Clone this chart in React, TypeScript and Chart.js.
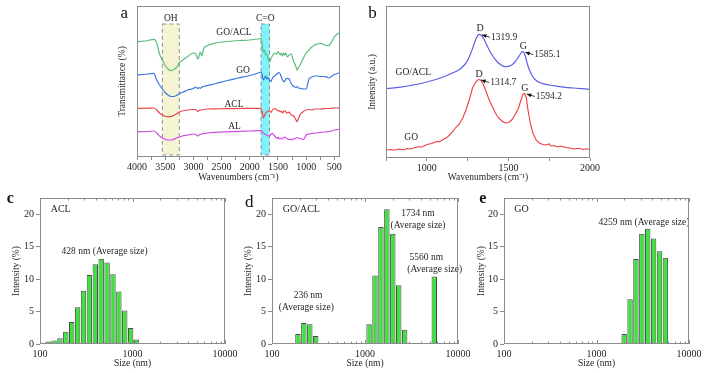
import React, { useEffect, useRef } from 'react';
import { Chart, registerables } from 'chart.js';
Chart.register(...registerables);

const SERIF = '"Liberation Serif", "Times New Roman", Times, serif';
const INK = '#262626';
const FRAME = '#8c8c8c';

// ---------- Panel a: FTIR (offset traces, arbitrary units, larger = lower on plot) ----------
const ftirWn = [4000, 3800, 3700, 3650, 3600, 3550, 3500, 3450, 3400, 3350,
  3300, 3250, 3200, 3100, 3000, 2960, 2920, 2900, 2880, 2850,
  2820, 2750, 2600, 2400, 2200, 2000, 1850, 1800, 1780, 1760,
  1740, 1720, 1700, 1680, 1650, 1620, 1600, 1560, 1520, 1500,
  1480, 1460, 1440, 1420, 1400, 1380, 1360, 1340, 1300, 1280,
  1260, 1240, 1220, 1200, 1180, 1160, 1140, 1100, 1050, 1000,
  950, 900, 850, 800, 750, 700, 650, 600, 550, 500,
  450, 400];
const ftirGoAcl = [41.7, 40.5, 39.3, 43, 54, 60, 65.5, 69, 70.7, 69.5,
  67.5, 63, 60.5, 56.5, 53, 53.5, 59, 56, 52, 56,
  49, 45.5, 43, 41.5, 40.5, 40, 39, 38.5, 45, 52,
  50, 55, 54, 58, 62, 58, 56, 53, 54, 51.5,
  53, 55, 53, 56, 53, 55, 53, 57, 55, 54,
  54, 58, 62, 64, 67, 70, 68, 64, 58, 53,
  50, 47, 45, 44, 43.3, 44, 45.5, 45.5, 42, 37,
  34, 33];
const ftirGo = [75, 74, 73.3, 80, 85, 89, 92.5, 95, 96.5, 96.5,
  95.5, 93.5, 92.5, 90, 88.5, 87, 88.5, 87.5, 88.5, 87,
  86.5, 85.5, 83.5, 80.5, 78, 75.5, 73, 72, 75, 80,
  78, 76, 79, 77.5, 80, 81.5, 78, 76, 74, 73,
  72.7, 74, 77, 80, 81.7, 81, 79, 78.3, 79, 82,
  84, 85.5, 86.5, 87, 87.3, 86.5, 88, 88.3, 89, 89,
  79, 77, 76, 76, 76.5, 76.5, 76.7, 78, 76.5, 74.5,
  73.5, 72.7];
const ftirAcl = [108.3, 108.2, 108, 110, 113, 115, 116.3, 116.7, 116.5, 115.5,
  114, 112, 111, 110, 109.5, 109.5, 111.5, 110.5, 110, 110,
  109.5, 109, 108.8, 108.6, 108.5, 108.4, 108.3, 108.3, 112, 118,
  116, 113, 112, 111, 111, 112.5, 110, 108.5, 110, 111,
  110.5, 112, 111, 113, 111.5, 110.5, 112, 113, 112, 114,
  115, 115.5, 116, 118, 120, 121.7, 119, 114, 111.5, 110,
  109.5, 110, 109, 109, 109, 108.8, 108.5, 108.5, 108.3, 108,
  108, 107.8];
const ftirAl = [131.7, 131.5, 131, 133, 136, 138, 139.3, 140, 140, 139.3,
  138, 137, 136, 135, 134, 134.5, 136, 135, 134.5, 134,
  133.5, 133, 132.3, 131.8, 131.3, 131, 130.7, 130.5, 131.5, 133,
  134, 134.5, 135, 136, 136, 134, 133.3, 136, 138.3, 137,
  139, 138, 139, 138.5, 137.5, 137, 138, 138.5, 139.5, 139,
  140, 139.5, 138.5, 139, 138, 137.5, 138, 138.5, 139.5, 135,
  134, 133.5, 133, 133, 132.5, 132, 132, 131.5, 131, 130,
  129.5, 129];
const ftirNames = ['GO/ACL', 'GO', 'ACL', 'AL'];
const ohBand = [3550, 3250];
const coBand = [1800, 1650];

// ---------- Panel b: Raman ----------
const ramanGoAclWn = [750, 800, 850, 900, 950, 1000, 1050, 1100, 1150, 1200,
  1230, 1250, 1270, 1290, 1305, 1320, 1335, 1350, 1370, 1400,
  1430, 1460, 1480, 1500, 1520, 1540, 1560, 1575, 1585, 1595,
  1605, 1620, 1640, 1660, 1700, 1750, 1800, 1850, 1900, 1950, 2000];
const ramanGoAclI = [88.5, 87.8, 86.8, 85.5, 84, 82, 79.7, 77, 73.5, 69.5,
  65, 60.5, 53, 44, 37.5, 34.3, 35.5, 39, 46, 55,
  61.5, 65.5, 66.7, 66.3, 65, 62, 57.5, 53.5, 51.7, 52.5,
  57, 66, 74, 79, 83, 85, 86.3, 87.3, 88, 88.7, 89.3];
const ramanGoWn = [750, 780, 800, 830, 860, 880, 900, 930, 950, 970,
  1000, 1030, 1060, 1080, 1100, 1120, 1140, 1160, 1180, 1200,
  1220, 1240, 1260, 1280, 1300, 1315, 1330, 1345, 1360, 1380,
  1400, 1420, 1440, 1460, 1480, 1500, 1520, 1540, 1560, 1575,
  1590, 1600, 1610, 1620, 1635, 1650, 1670, 1690, 1710, 1730,
  1750, 1760, 1780, 1800, 1820, 1850, 1880, 1900, 1930, 1960, 1980, 2000];
const ramanGoI = [150, 149.5, 150.3, 149, 149.8, 148.5, 149, 147.5, 146.8, 147,
  144.5, 143.5, 141.5, 141.8, 139.5, 137.8, 135, 131.5, 127, 124,
  118, 110, 100, 88, 82, 79.5, 80, 84, 90, 99,
  106, 113, 118, 121, 123, 122.5, 120, 115, 109, 101,
  94, 93.5, 98, 110, 124, 133, 140, 143, 144.5, 145,
  144, 146, 145.5, 147, 146, 147.5, 148, 149, 148.2, 149.5, 148.7, 149.5];
const goAclPeakWn = [1319.9, 1585.1];
const goAclPeakI = [34.3, 51.7];
const goPeakWn = [1314.7, 1594.2];
const goPeakI = [79.5, 93.5];
const peakNames = ['D', 'G'];

// ---------- Panels c-e: DLS size distributions ----------
const dlsBins = [105.7, 122.4, 141.8, 164.2, 190.1, 220.2, 255.0, 295.3, 342.0, 396.1,
  458.7, 531.2, 615.1, 712.4, 825.0, 955.4, 1106, 1281, 1484, 1718,
  1990, 2305, 2669, 3091, 3580, 4145, 4801, 5560];
const aclIntensity = [0.2, 0.4, 0.55, 0.9, 1.9, 3.4, 5.65, 8.2, 10.65, 12.3,
  13.15, 12.55, 10.75, 8.1, 5.15, 2.45, 0.7, 0, 0, 0,
  0, 0, 0, 0, 0, 0, 0, 0];
const goAclIntensity = [0, 0, 0, 0, 1.55, 3.25, 3.05, 1.25, 0, 0,
  0, 0, 0, 0, 0, 0, 3.05, 10.55, 18.05, 20.75,
  17.0, 9.05, 2.2, 0, 0, 0, 0, 10.4];
const goIntensity = [0, 0, 0, 0, 0, 0, 0, 0, 0, 0,
  0, 0, 0, 0, 0, 0, 0, 0, 0, 0,
  1.55, 6.9, 13.1, 17.0, 17.75, 16.25, 14.3, 13.3];
const sizeTicks = [100, 1000, 10000];
const intensityTicks = [0, 5, 10, 15, 20];

// ---------- helpers ----------
const tickFont = { family: SERIF, size: 10 };
const titleFont = { family: SERIF, size: 9.5 };

function txt(ctx: any, s: string, x: number, y: number, align = 'center', size = 9.5, weight = 'normal') {
  ctx.save();
  ctx.font = `${weight} ${size}px ${SERIF}`;
  ctx.fillStyle = INK;
  ctx.textAlign = align;
  ctx.textBaseline = 'middle';
  ctx.fillText(s, x, y);
  ctx.restore();
}
function letter(ctx: any, s: string, x: number, base: number, size = 16, weight = 'normal') {
  ctx.save();
  ctx.font = `${weight} ${size}px ${SERIF}`;
  ctx.fillStyle = '#111';
  ctx.textAlign = 'left';
  ctx.textBaseline = 'alphabetic';
  ctx.fillText(s, x, base);
  ctx.restore();
}
function arrow(ctx: any, x1: number, y1: number, x2: number, y2: number) {
  ctx.save();
  ctx.strokeStyle = '#111';
  ctx.fillStyle = '#111';
  ctx.lineWidth = 0.8;
  ctx.beginPath();
  ctx.moveTo(x1, y1);
  ctx.lineTo(x2, y2);
  ctx.stroke();
  const a = Math.atan2(y2 - y1, x2 - x1);
  const L = 4.5, W = 2;
  ctx.beginPath();
  ctx.moveTo(x2, y2);
  ctx.lineTo(x2 - L * Math.cos(a) + W * Math.sin(a), y2 - L * Math.sin(a) - W * Math.cos(a));
  ctx.lineTo(x2 - L * Math.cos(a) - W * Math.sin(a), y2 - L * Math.sin(a) + W * Math.cos(a));
  ctx.closePath();
  ctx.fill();
  ctx.restore();
}

const framePlugin = {
  id: 'frame',
  afterDraw(chart: any) {
    const { ctx, chartArea: a } = chart;
    ctx.save();
    ctx.strokeStyle = FRAME;
    ctx.lineWidth = 1;
    ctx.strokeRect(Math.round(a.left) + 0.5, Math.round(a.top) + 0.5, Math.round(a.right - a.left) - 1, Math.round(a.bottom - a.top) - 1);
    ctx.restore();
  },
};

const logTickPlugin = {
  id: 'logTicks',
  afterDraw(chart: any) {
    const { ctx, chartArea: a, scales } = chart;
    const x = scales.x;
    ctx.save();
    ctx.strokeStyle = FRAME;
    ctx.lineWidth = 1;
    ctx.beginPath();
    for (let d = 100; d <= 10000; d *= 10) {
      for (let m = 1; m <= 9; m++) {
        const v = m * d;
        if (v > 10000) break;
        const px = Math.round(x.getPixelForValue(v)) + 0.5;
        const len = m === 1 ? 4 : 2.5;
        ctx.moveTo(px, a.bottom);
        ctx.lineTo(px, a.bottom - len);
        ctx.moveTo(px, a.top);
        ctx.lineTo(px, a.top + len);
      }
    }
    ctx.stroke();
    ctx.restore();
  },
};

const baseOpts = (pad: any) => ({
  responsive: false,
  animation: false,
  events: [],
  layout: { padding: pad },
  plugins: { legend: { display: false }, tooltip: { enabled: false } },
});

const stepTicks = (lo: number, hi: number, step: number) => {
  const out = [];
  for (let v = lo; v <= hi; v += step) out.push({ value: v });
  return out;
};

// ---------- panel a config ----------
const FTIR_COLORS = ['#5bbd7c', '#3c78de', '#e8484b', '#d24fe6'];
function configA() {
  const series = [ftirGoAcl, ftirGo, ftirAcl, ftirAl];
  const annot = {
    id: 'ftirAnnot',
    beforeDatasetsDraw(chart: any) {
      const { ctx, scales: { x, y } } = chart;
      const band = (r: number[], fill: string) => {
        const x1 = x.getPixelForValue(r[0]), x2 = x.getPixelForValue(r[1]);
        const y1 = y.getPixelForValue(24), y2 = y.getPixelForValue(155);
        ctx.save();
        ctx.fillStyle = fill;
        ctx.fillRect(x1, y1, x2 - x1, y2 - y1);
        ctx.setLineDash([4, 3]);
        ctx.strokeStyle = '#8f8f8f';
        ctx.lineWidth = 1;
        ctx.strokeRect(x1, y1, x2 - x1, y2 - y1);
        ctx.restore();
      };
      band(ohBand, '#f6f4d3');
      band(coBand, '#7ff2fa');
    },
    afterDatasetsDraw(chart: any) {
      const { ctx, scales: { x, y } } = chart;
      txt(ctx, 'OH', x.getPixelForValue((ohBand[0] + ohBand[1]) / 2), y.getPixelForValue(18.3));
      txt(ctx, 'C=O', x.getPixelForValue((coBand[0] + coBand[1]) / 2), y.getPixelForValue(18.3));
      const lx = [2280, 2120, 2280, 2270];
      const ly = [32.3, 70, 104, 126];
      ftirNames.forEach((n, i) => txt(ctx, n, x.getPixelForValue(lx[i]), y.getPixelForValue(ly[i])));
      letter(ctx, 'a', 8.5, 18.3, 17);
    },
  };
  return {
    type: 'line',
    data: {
      datasets: series.map((s, k) => ({
        data: ftirWn.map((w, i) => ({ x: w, y: s[i] })),
        borderColor: FTIR_COLORS[k],
        borderWidth: 1.2,
        pointRadius: 0,
        cubicInterpolationMode: 'monotone',
      })),
    },
    options: {
      ...baseOpts({ left: 0, right: 10, top: 6, bottom: 0 }),
      scales: {
        x: {
          type: 'linear', reverse: true, min: 400, max: 4000,
          afterBuildTicks: (s: any) => { s.ticks = stepTicks(500, 4000, 250); },
          afterFit: (s: any) => { s.height = 33; s.paddingLeft = 0; s.paddingRight = 0; },
          ticks: { callback: (v: number) => (v % 500 === 0 ? String(v) : ''), font: tickFont, color: INK, padding: 1, autoSkip: false, maxRotation: 0 },
          grid: { display: true, drawOnChartArea: false, tickLength: 3, color: FRAME },
          border: { display: false },
          title: { display: true, text: 'Wavenumbers (cm⁻¹)', font: titleFont, color: INK, padding: { top: 0, bottom: 7 } },
        },
        y: {
          type: 'linear', reverse: true, min: 6, max: 157,
          afterFit: (s: any) => { s.width = 25; },
          ticks: { display: false }, grid: { display: false }, border: { display: false },
          title: { display: true, text: 'Transmittance (%)', font: titleFont, color: INK, padding: { top: 5, bottom: 0 } },
        },
      },
    },
    plugins: [framePlugin, annot],
  };
}

// ---------- panel b config ----------
function configB() {
  const annot = {
    id: 'ramanAnnot',
    afterDatasetsDraw(chart: any) {
      const { ctx, scales: { x, y } } = chart;
      const mark = (wn: number[], inten: number[]) => {
        wn.forEach((w, i) => {
          const px = x.getPixelForValue(w), py = y.getPixelForValue(inten[i]);
          txt(ctx, peakNames[i], px + 1, py - 5.5, 'center', 10);
          arrow(ctx, px + 11, py + 3, px + 3, py + 0.5);
          txt(ctx, w.toFixed(1), px + 12, py + 3, 'left', 9.5);
        });
      };
      mark(goAclPeakWn, goAclPeakI);
      mark(goPeakWn, goPeakI);
      txt(ctx, 'GO/ACL', x.getPixelForValue(917), y.getPixelForValue(72.7));
      txt(ctx, 'GO', x.getPixelForValue(904), y.getPixelForValue(137));
      letter(ctx, 'b', 6.3, 18.3, 17);
    },
  };
  return {
    type: 'line',
    data: {
      datasets: [
        { data: ramanGoAclWn.map((w, i) => ({ x: w, y: ramanGoAclI[i] })), borderColor: '#5a5fe6', borderWidth: 1.2, pointRadius: 0, cubicInterpolationMode: 'monotone' },
        { data: ramanGoWn.map((w, i) => ({ x: w, y: ramanGoI[i] })), borderColor: '#f03a3c', borderWidth: 1.1, pointRadius: 0 },
      ],
    },
    options: {
      ...baseOpts({ left: 0, right: 10, top: 6, bottom: 0 }),
      scales: {
        x: {
          type: 'linear', min: 750, max: 2000,
          afterBuildTicks: (s: any) => { s.ticks = stepTicks(750, 2000, 250); },
          afterFit: (s: any) => { s.height = 32; s.paddingLeft = 0; s.paddingRight = 0; },
          ticks: { callback: (v: number) => (v % 500 === 0 ? String(v) : ''), font: tickFont, color: INK, padding: 1, autoSkip: false, maxRotation: 0 },
          grid: { display: true, drawOnChartArea: false, tickLength: 3, color: FRAME },
          border: { display: false },
          title: { display: true, text: 'Wavenumbers (cm⁻¹)', font: titleFont, color: INK, padding: { top: 0, bottom: 7 } },
        },
        y: {
          type: 'linear', reverse: true, min: 6, max: 158,
          afterFit: (s: any) => { s.width = 24; },
          ticks: { display: false }, grid: { display: false }, border: { display: false },
          title: { display: true, text: 'Intensity (a.u.)', font: titleFont, color: INK, padding: { top: 5, bottom: 0 } },
        },
      },
    },
    plugins: [framePlugin, annot],
  };
}

// ---------- DLS configs ----------
function dlsConfig(values: number[], yWidth: number, rightPad: number, titlePad: number, annot: any) {
  const pts = dlsBins.map((x, i) => ({ x, y: values[i] })).filter((p) => p.y > 0);
  return {
    type: 'bar',
    data: {
      datasets: [{ data: pts, backgroundColor: '#3ee23e', borderColor: '#4a4a4a', borderWidth: 1, barPercentage: 0.92, categoryPercentage: 1 }],
    },
    options: {
      ...baseOpts({ left: 0, right: rightPad, top: 4, bottom: 0 }),
      scales: {
        x: {
          type: 'logarithmic', min: 100, max: 10000, offset: false,
          afterBuildTicks: (s: any) => { s.ticks = sizeTicks.map((v) => ({ value: v })); },
          afterFit: (s: any) => { s.height = 29; s.paddingLeft = 0; s.paddingRight = 0; },
          ticks: { callback: (v: number) => String(v), font: tickFont, color: INK, padding: 4, autoSkip: false, maxRotation: 0 },
          grid: { display: false, drawTicks: false, offset: false },
          border: { display: false },
          title: { display: true, text: 'Size (nm)', font: titleFont, color: INK, padding: { top: 0, bottom: 4 } },
        },
        y: {
          type: 'linear', min: 0, max: 22.5,
          afterBuildTicks: (s: any) => { s.ticks = intensityTicks.map((v) => ({ value: v })); },
          afterFit: (s: any) => { s.width = yWidth; },
          ticks: { font: tickFont, color: INK, padding: 2 },
          grid: { display: true, drawOnChartArea: false, tickLength: 4, color: FRAME },
          border: { display: false },
          title: { display: true, text: 'Intensity (%)', font: titleFont, color: INK, padding: { top: titlePad, bottom: 0 } },
        },
      },
    },
    plugins: [framePlugin, logTickPlugin, annot],
  };
}

function configC() {
  return dlsConfig(aclIntensity, 34, 26, 4.3, {
    id: 'annC',
    afterDatasetsDraw(chart: any) {
      const { ctx, chartArea: a, scales: { x, y } } = chart;
      txt(ctx, 'ACL', a.left + 10.7, a.top + 11, 'left', 10);
      txt(ctx, '428 nm (Average size)', x.getPixelForValue(500), y.getPixelForValue(14.2));
      letter(ctx, 'c', 0.7, 13, 16, 'bold');
    },
  });
}
function configD() {
  return dlsConfig(goAclIntensity, 31, 23, 2.2, {
    id: 'annD',
    afterDatasetsDraw(chart: any) {
      const { ctx, chartArea: a, scales: { x, y } } = chart;
      txt(ctx, 'GO/ACL', a.left + 10.7, a.top + 11, 'left', 10);
      txt(ctx, '1734 nm', x.getPixelForValue(3715), y.getPixelForValue(20.05));
      txt(ctx, '(Average size)', x.getPixelForValue(3715), y.getPixelForValue(18.3));
      txt(ctx, '5560 nm', x.getPixelForValue(4571), y.getPixelForValue(13.3));
      txt(ctx, '(Average size)', x.getPixelForValue(5620), y.getPixelForValue(11.5));
      txt(ctx, '236 nm', x.getPixelForValue(244), y.getPixelForValue(7.5));
      txt(ctx, '(Average size)', x.getPixelForValue(234), y.getPixelForValue(5.7));
      letter(ctx, 'd', 4, 16.5, 17);
    },
  });
}
function configE() {
  return dlsConfig(goIntensity, 34, 27, 5.5, {
    id: 'annE',
    afterDatasetsDraw(chart: any) {
      const { ctx, chartArea: a, scales: { x, y } } = chart;
      txt(ctx, 'GO', a.left + 10.3, a.top + 11, 'left', 10);
      txt(ctx, '4259 nm (Average size)', x.getPixelForValue(3263), y.getPixelForValue(18.7));
      letter(ctx, 'e', 9.3, 13, 16, 'bold');
    },
  });
}

function ChartPanel({ left, top, width, height, make }: any) {
  const ref = useRef<HTMLCanvasElement>(null);
  useEffect(() => {
    const chart = new Chart(ref.current as any, make());
    return () => chart.destroy();
  }, []);
  return <canvas ref={ref} width={width} height={height} style={{ position: 'absolute', left, top, width, height }} />;
}

export default function App() {
  return (
    <div style={{ position: 'absolute', left: 0, top: 0, width: 716, height: 373, background: '#fff', overflow: 'hidden' }}>
      <ChartPanel left={112} top={0} width={238} height={190} make={configA} />
      <ChartPanel left={362} top={0} width={238} height={190} make={configB} />
      <ChartPanel left={6} top={190} width={245} height={183} make={configC} />
      <ChartPanel left={241} top={190} width={240} height={183} make={configD} />
      <ChartPanel left={470} top={190} width={246} height={183} make={configE} />
    </div>
  );
}
